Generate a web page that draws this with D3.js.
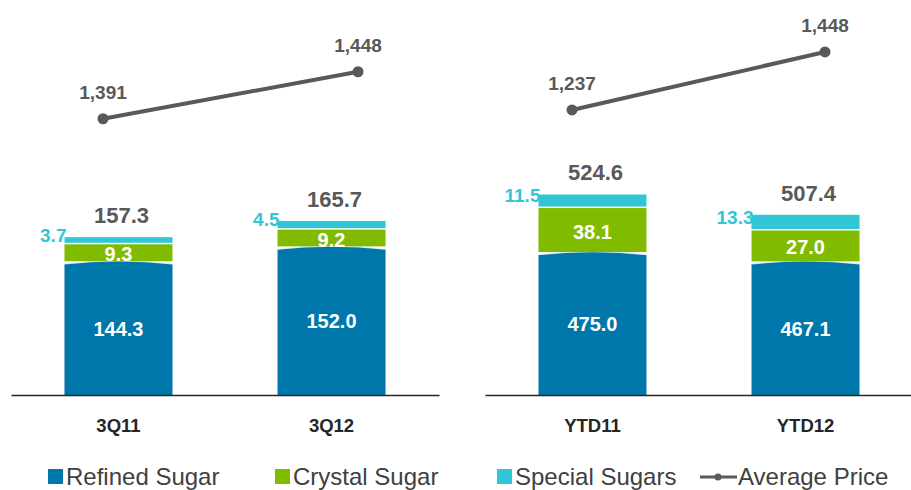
<!DOCTYPE html>
<html>
<head>
<meta charset="utf-8">
<script src="https://cdn.jsdelivr.net/npm/d3@7"></script>
<style>
  body { margin: 0; background: #fff; }
  text { font-family: "Liberation Sans", Arial, sans-serif; }
</style>
</head>
<body>
<svg width="911" height="490"></svg>
<script>
// values
var categories = ['3Q11', '3Q12', 'YTD11', 'YTD12']
var refined = [144.3, 152.0, 475.0, 467.1]
var crystal = [9.3, 9.2, 38.1, 27.0]
var special = [3.7, 4.5, 11.5, 13.3]
var totals = [157.3, 165.7, 524.6, 507.4]
var avgPrice = [1391, 1448, 1237, 1448]
var seriesNames = ['Refined Sugar', 'Crystal Sugar', 'Special Sugars', 'Average Price']

var colors = ['#0077aa', '#80bb00', '#30c6d5', '#595959']
var base = 395

// two panels, each with its own (broken) volume axis and price axis
var panels = [
  { idx: [0, 1], x: [11, 439], vol: [75.5, 280.2], price: [1056, 1535], line: [103, 358] },
  { idx: [2, 3], x: [485, 913], vol: [354.7, 689.4], price: [200, 1637], line: [572, 825] }
]

var svg = d3.select('svg')

panels.forEach((p) => {
  var cats = p.idx.map((i) => categories[i])
  var x = d3.scaleBand().domain(cats).range(p.x).paddingInner(0.493).paddingOuter(0.251)
  var y = d3.scaleLinear().domain(p.vol).range([base, 0]).clamp(true)
  var yp = d3.scaleLinear().domain(p.price).range([base, 0])
  var xl = d3.scalePoint().domain(cats).range(p.line)

  var g = svg.append('g')

  var rows = p.idx.map((i) => ({
    cat: categories[i], r: refined[i], c: crystal[i], s: special[i], tot: totals[i], price: avgPrice[i]
  }))

  // refined: rounded top
  g.selectAll('.refined').data(rows).enter()
    .append('path')
    .attr('fill', colors[0])
    .attr('d', (d) => {
      var x0 = x(d.cat), w = x.bandwidth(), t = y(d.r)
      return 'M' + x0 + ',' + base + 'L' + x0 + ',' + (t + 1.5) +
        'Q' + (x0 + w / 2) + ',' + (t - 4.5) + ' ' + (x0 + w) + ',' + (t + 1.5) +
        'L' + (x0 + w) + ',' + base + 'Z'
    })

  g.selectAll('.hl').data(rows).enter()
    .append('path')
    .attr('fill', 'none')
    .attr('stroke', '#fff')
    .attr('stroke-opacity', 0.8)
    .attr('stroke-width', 1.5)
    .attr('d', (d) => {
      var x0 = x(d.cat), w = x.bandwidth(), t = y(d.r)
      return 'M' + x0 + ',' + (t + 1.5) + 'Q' + (x0 + w / 2) + ',' + (t - 4.5) + ' ' + (x0 + w) + ',' + (t + 1.5)
    })

  g.selectAll('.crystal').data(rows).enter()
    .append('rect')
    .attr('x', (d) => x(d.cat))
    .attr('width', x.bandwidth())
    .attr('y', (d) => y(d.r + d.c))
    .attr('height', (d) => y(d.r) - y(d.r + d.c) - 1)
    .attr('fill', colors[1])

  g.selectAll('.special').data(rows).enter()
    .append('rect')
    .attr('x', (d) => x(d.cat))
    .attr('width', x.bandwidth())
    .attr('y', (d) => y(d.tot))
    .attr('height', (d) => y(d.r + d.c) - y(d.tot) - 1.5)
    .attr('fill', colors[2])

  // labels inside / beside bars
  g.selectAll('.lr').data(rows).enter()
    .append('text')
    .attr('x', (d) => x(d.cat) + x.bandwidth() / 2)
    .attr('y', (d) => (y(d.r) + base) / 2 + 7)
    .attr('text-anchor', 'middle')
    .attr('fill', '#fff')
    .attr('font-weight', 'bold')
    .attr('font-size', 20)
    .text((d) => d.r.toFixed(1))

  g.selectAll('.lc').data(rows).enter()
    .append('text')
    .attr('x', (d) => x(d.cat) + x.bandwidth() / 2)
    .attr('y', (d) => (y(d.r) + y(d.r + d.c)) / 2 + 8)
    .attr('text-anchor', 'middle')
    .attr('fill', '#fff')
    .attr('font-weight', 'bold')
    .attr('font-size', 20)
    .text((d) => d.c.toFixed(1))

  g.selectAll('.ls').data(rows).enter()
    .append('text')
    .attr('x', (d) => x(d.cat) + 2)
    .attr('y', (d) => (y(d.tot) + y(d.r + d.c)) / 2 + 1)
    .attr('text-anchor', 'end')
    .attr('fill', colors[2])
    .attr('font-weight', 'bold')
    .attr('font-size', 19)
    .text((d) => d.s.toFixed(1))

  g.selectAll('.lt').data(rows).enter()
    .append('text')
    .attr('x', (d) => x(d.cat) + x.bandwidth() / 2 + 3)
    .attr('y', (d) => y(d.tot) - 14)
    .attr('text-anchor', 'middle')
    .attr('fill', '#595959')
    .attr('font-weight', 'bold')
    .attr('font-size', 22)
    .text((d) => d.tot.toFixed(1))

  // category axis
  var ax = g.append('g')
    .attr('transform', 'translate(0,' + base + ')')
    .call(d3.axisBottom(x).tickSize(0).tickPadding(24))
  ax.select('.domain').attr('stroke', '#262626').attr('stroke-width', 1.5)
  ax.selectAll('text')
    .attr('font-family', '"Liberation Sans", Arial, sans-serif')
    .attr('font-size', 18.5)
    .attr('font-weight', 'bold')
    .attr('fill', '#262626')

  // average price line
  g.append('path')
    .datum(rows)
    .attr('fill', 'none')
    .attr('stroke', colors[3])
    .attr('stroke-width', 4)
    .attr('d', d3.line().x((d) => xl(d.cat)).y((d) => yp(d.price)))

  g.selectAll('.dot').data(rows).enter()
    .append('circle')
    .attr('cx', (d) => xl(d.cat))
    .attr('cy', (d) => yp(d.price))
    .attr('r', 5.5)
    .attr('fill', colors[3])

  g.selectAll('.lp').data(rows).enter()
    .append('text')
    .attr('x', (d) => xl(d.cat))
    .attr('y', (d) => yp(d.price) - 20)
    .attr('text-anchor', 'middle')
    .attr('fill', '#595959')
    .attr('font-weight', 'bold')
    .attr('font-size', 19)
    .text((d) => d3.format(',')(d.price))
})

// legend
var legendX = [48, 275, 497, 700]
var lg = svg.selectAll('.legend').data(seriesNames).enter()
  .append('g')
  .attr('transform', (d, i) => 'translate(' + legendX[i] + ',0)')

lg.filter((d, i) => i < 3).append('rect')
  .attr('y', 469).attr('width', 15).attr('height', 15)
  .attr('fill', (d, i) => colors[i])

var ll = lg.filter((d, i) => i === 3)
ll.append('line').attr('x1', 0).attr('x2', 37).attr('y1', 477).attr('y2', 477)
  .attr('stroke', colors[3]).attr('stroke-width', 3)
ll.append('circle').attr('cx', 18).attr('cy', 477).attr('r', 3.5).attr('fill', colors[3])

lg.append('text')
  .attr('x', (d, i) => i < 3 ? 18 : 38)
  .attr('y', 485)
  .attr('font-size', 24)
  .attr('fill', '#404040')
  .text((d) => d)
</script>
</body>
</html>
